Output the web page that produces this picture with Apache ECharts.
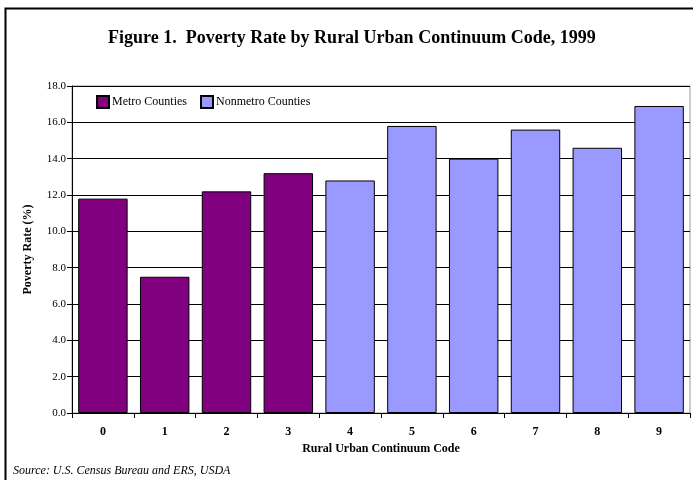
<!DOCTYPE html>
<html><head><meta charset="utf-8">
<script src="https://cdn.jsdelivr.net/npm/echarts@6/dist/echarts.min.js"></script>
<style>html,body{margin:0;padding:0;background:#fff}#c{width:693px;height:480px}</style>
</head><body><div id="c"></div>
<script>
const categories = ['0','1','2','3','4','5','6','7','8','9'];
const metroValues = [11.8, 7.5, 12.2, 13.2, null, null, null, null, null, null];
const nonmetroValues = [null, null, null, null, 12.8, 15.8, 14.0, 15.6, 14.6, 16.9];
const yTicks = {min: 0, max: 18, interval: 2};

const F = '"Liberation Serif", "Times New Roman", serif';
const chart = echarts.init(document.getElementById('c'));
chart.setOption({
  animation: false,
  backgroundColor: '#fff',
  title: {
    text: 'Figure 1.  Poverty Rate by Rural Urban Continuum Code, 1999',
    left: 103, top: 24,
    textStyle: {fontFamily: F, fontSize: 18, fontWeight: 'bold', color: '#000'}
  },
  graphic: [
    {type: 'rect', shape: {x: 5.5, y: 8.5, width: 720, height: 520},
     style: {fill: 'none', stroke: '#000', lineWidth: 2}, silent: true, z: 100},
    {type: 'text', left: 13, top: 465,
     style: {text: 'Source: U.S. Census Bureau and ERS, USDA', font: 'italic 12px ' + F, fill: '#000'}}
  ],
  legend: {
    left: 91, top: 90, itemWidth: 12, itemHeight: 12, itemGap: 13,
    icon: 'rect',
    textStyle: {fontFamily: F, fontSize: 12, color: '#000', padding: [0,0,0,-2]},
    data: ['Metro Counties', 'Nonmetro Counties']
  },
  grid: {left: 72, right: 3, top: 86, bottom: 67, show: true, borderColor: '#999', borderWidth: 1, backgroundColor: '#fff'},
  xAxis: {
    type: 'category', data: categories,
    name: 'Rural Urban Continuum Code', nameLocation: 'middle', nameGap: 30,
    nameTextStyle: {fontFamily: F, fontSize: 12, fontWeight: 'bold', color: '#000'},
    axisLine: {lineStyle: {color: '#000'}},
    axisTick: {show: true, length: 5, lineStyle: {color: '#000'}},
    axisLabel: {fontFamily: F, fontSize: 12, fontWeight: 'bold', color: '#000', margin: 13}
  },
  yAxis: {
    type: 'value', min: yTicks.min, max: yTicks.max, interval: yTicks.interval,
    name: 'Poverty Rate (%)', nameLocation: 'middle', nameGap: 38,
    nameTextStyle: {fontFamily: F, fontSize: 12, fontWeight: 'bold', color: '#000'},
    axisLine: {show: true, lineStyle: {color: '#000'}},
    axisTick: {show: true, length: 5, lineStyle: {color: '#000'}},
    axisLabel: {fontFamily: F, fontSize: 11, color: '#000', margin: 6, formatter: v => v.toFixed(1)},
    splitLine: {lineStyle: {color: '#000', width: 1}}
  },
  series: [
    {name: 'Metro Counties', type: 'bar', data: metroValues, barCategoryGap: '20%', barGap: '-100%',
     itemStyle: {color: '#800080', borderColor: '#000', borderWidth: 1}},
    {name: 'Nonmetro Counties', type: 'bar', data: nonmetroValues, barCategoryGap: '20%', barGap: '-100%',
     itemStyle: {color: '#9999ff', borderColor: '#000', borderWidth: 1}}
  ]
});
</script></body></html>
